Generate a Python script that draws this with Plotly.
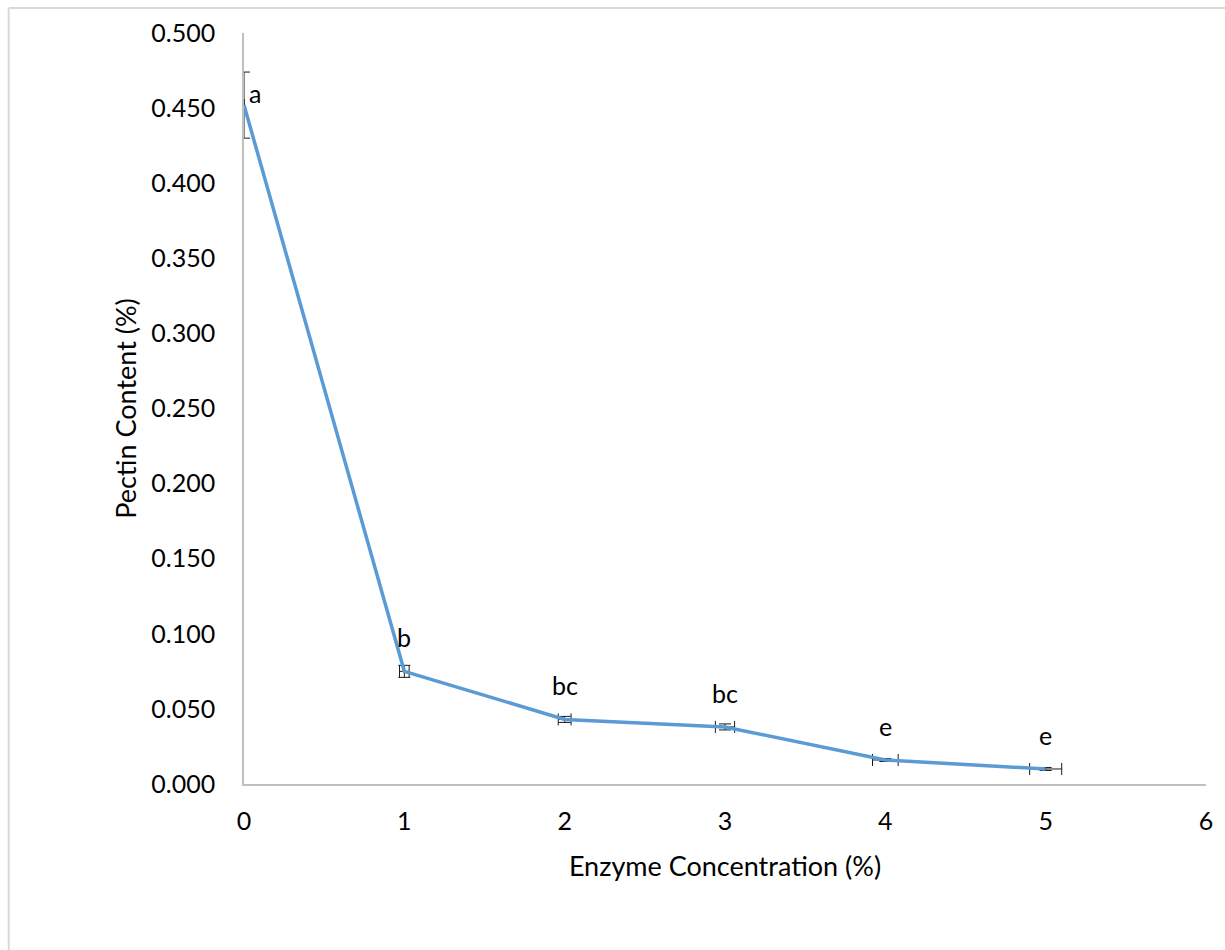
import plotly.graph_objects as go

# Enzyme concentration (%) and measured pectin content (%)
enzyme = [0, 1, 2, 3, 4, 5]
pectin = [0.452, 0.075, 0.043, 0.038, 0.016, 0.010]
pectin_err = [0.022, 0.004, 0.002, 0.002, 0.001, 0.001]
enzyme_err = [0.0, 0.03, 0.04, 0.06, 0.08, 0.10]
letters = ["a", "b", "bc", "bc", "e", "e"]

y_ticks = [0.0, 0.05, 0.1, 0.15, 0.2, 0.25, 0.3, 0.35, 0.4, 0.45, 0.5]
x_ticks = [0, 1, 2, 3, 4, 5, 6]

W, H = 1225, 950
L, R, T, B = 244, 16, 33, 166
pw, ph = W - L - R, H - T - B

FONT = "Lato, 'Open Sans', sans-serif"

fig = go.Figure()
fig.add_trace(go.Scatter(
    x=enzyme, y=pectin, mode="lines",
    line=dict(color="#5B9BD5", width=3.5),
    error_y=dict(type="data", array=pectin_err, visible=True,
                 color="#1a1a1a", thickness=1, width=6),
    error_x=dict(type="data", array=enzyme_err, visible=True,
                 color="#1a1a1a", thickness=1, width=6),
    showlegend=False, hoverinfo="skip",
))

# significance letters above each point
for i, (xv, yv, lab) in enumerate(zip(enzyme, pectin, letters)):
    if i == 0:
        fig.add_annotation(x=xv, y=yv, text=lab, showarrow=False,
                           xshift=11, yshift=12,
                           font=dict(size=25, color="#000000", family=FONT))
    else:
        fig.add_annotation(x=xv, y=yv, text=lab, showarrow=False,
                           yshift=34,
                           font=dict(size=25, color="#000000", family=FONT))

# outer chart frame (top and left edges)
fx0 = -(L - 8) / pw
fy1 = 1 + (T - 8) / ph
fig.add_shape(type="line", xref="paper", yref="paper",
              x0=fx0, x1=1.2, y0=fy1, y1=fy1,
              line=dict(color="#D9D9D9", width=2))
fig.add_shape(type="line", xref="paper", yref="paper",
              x0=fx0, x1=fx0, y0=fy1, y1=-0.4,
              line=dict(color="#D9D9D9", width=2))

fig.update_layout(
    width=W, height=H,
    margin=dict(l=L, r=R, t=T, b=B),
    paper_bgcolor="white", plot_bgcolor="white",
    font=dict(family=FONT, size=25, color="#000000"),
    xaxis=dict(range=[0, 6], tickvals=x_ticks, ticktext=[str(v) for v in x_ticks],
               showgrid=False, zeroline=False, showline=True,
               linecolor="#BFBFBF", linewidth=1.5, ticks="",
               tickfont=dict(size=25), ticklabelstandoff=14,
               title=dict(text="Enzyme Concentration (%)", font=dict(size=27),
                          standoff=23)),
    yaxis=dict(range=[0, 0.5], tickvals=y_ticks,
               ticktext=[f"{v:.3f}" for v in y_ticks],
               showgrid=False, zeroline=False, showline=True,
               linecolor="#BFBFBF", linewidth=1.5, ticks="",
               tickfont=dict(size=25), ticklabelstandoff=22,
               title=dict(text="Pectin Content (%)", font=dict(size=27),
                          standoff=7)),
)

fig.write_html("out.html")
